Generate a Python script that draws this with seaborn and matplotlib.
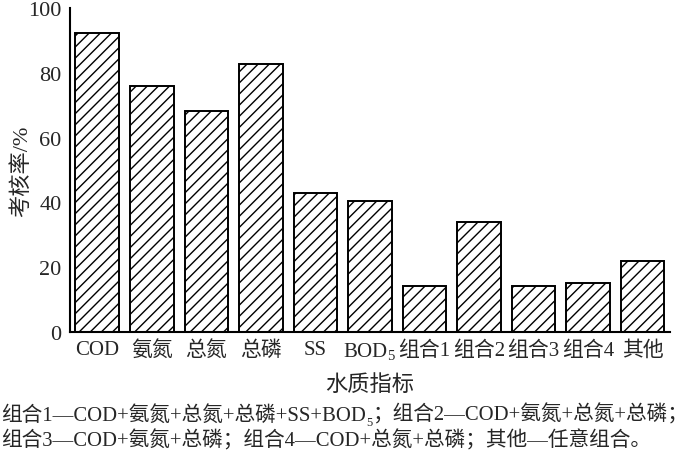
import matplotlib
matplotlib.use("Agg")
import matplotlib.pyplot as plt
import seaborn as sns

categories = ["COD", "氨氮", "总氮", "总磷", "SS", "BOD$_5$", "组合1", "组合2", "组合3", "组合4", "其他"]
values = [92.3, 75.9, 68.2, 82.7, 42.9, 40.4, 14.2, 34.0, 14.2, 15.2, 21.8]
yticks = [0, 20, 40, 60, 80, 100]
xlabel = "水质指标"
ylabel = "考核率/%"
caption1_parts = ["组合1—COD+氨氮+总氮+总磷+SS+BOD", "5", "；组合2—COD+氨氮+总氮+总磷；"]
caption2 = "组合3—COD+氨氮+总磷；组合4—COD+总氮+总磷；其他—任意组合。"

sns.set_style("white")
fam = ["Liberation Serif", "Noto Sans CJK SC", "DejaVu Sans"]
plt.rcParams["font.family"] = fam
plt.rcParams["mathtext.fontset"] = "custom"
plt.rcParams["mathtext.rm"] = "Liberation Serif"
plt.rcParams["mathtext.it"] = "Liberation Serif:italic"
plt.rcParams["hatch.linewidth"] = 1.0

fig = plt.figure(figsize=(7, 4.56), dpi=100)
ax = fig.add_axes([0.1, 0.27, 0.857, 0.71])

sns.barplot(x=categories, y=values, color="white", edgecolor="black",
            linewidth=1.4, hatch="///", width=0.8, ax=ax)

ax.set_xlim(-0.5, len(categories) - 0.5)
ax.set_ylim(0, 100)
ax.set_yticks(yticks)
ax.tick_params(axis="y", direction="in", length=5, width=1.2, labelsize=16, pad=6)
ax.tick_params(axis="x", length=0, labelsize=15, pad=6)
for s in ["top", "right"]:
    ax.spines[s].set_visible(False)
for s in ["left", "bottom"]:
    ax.spines[s].set_linewidth(1.5)
    ax.spines[s].set_color("black")
ax.set_xlabel(xlabel, fontsize=16, labelpad=9)
ax.set_ylabel(ylabel, fontsize=16, labelpad=-3)

# caption
fs = 14.9
t = fig.text(0.002, 0.077, caption1_parts[0], fontsize=fs, ha="left", va="baseline")
t2 = ax.annotate(caption1_parts[1], xycoords=t, xy=(1, 0), fontsize=fs * 0.6,
                 va="bottom", ha="left", annotation_clip=False, xytext=(0, -2),
                 textcoords="offset points")
t3 = ax.annotate(caption1_parts[2], xycoords=t, xy=(1, 0), fontsize=fs,
                 va="bottom", ha="left", annotation_clip=False, xytext=(5, 0),
                 textcoords="offset points")
fig.text(0.002, 0.02, caption2, fontsize=fs, ha="left", va="baseline")

fig.savefig("out.png", dpi=100, facecolor="white")
